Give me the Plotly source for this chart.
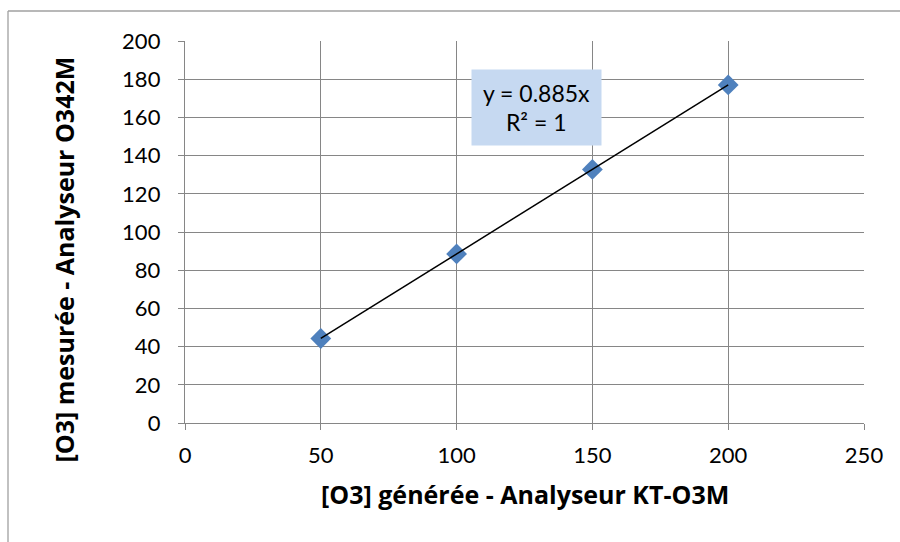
import numpy as np
import plotly.graph_objects as go

# Generated ozone concentration (KT-O3M) vs. measured concentration (O342M)
generated = [50, 100, 150, 200]
measured = [44.25, 88.5, 132.75, 177.0]

x_ticks = [0, 50, 100, 150, 200, 250]
y_ticks = [0, 20, 40, 60, 80, 100, 120, 140, 160, 180, 200]

# Linear trendline through the origin
xg = np.array(generated, dtype=float)
ym = np.array(measured, dtype=float)
slope = float((xg @ ym) / (xg @ xg))
fit = slope * xg
ss_res = float(((ym - fit) ** 2).sum())
ss_tot = float(((ym - ym.mean()) ** 2).sum())
r2 = 1 - ss_res / ss_tot

FONT = "Lato"
TITLE_FONT = "Open Sans"
GRID = "#868686"

# plot-area pixel geometry
W, H = 900, 542
L, R, T, B = 185, 36, 41, 119
pw, ph = W - L - R, H - T - B


def px(x):
    return (x - L) / pw


def py(y):
    return (H - B - y) / ph


fig = go.Figure()
fig.add_trace(go.Scatter(
    x=generated, y=measured, mode="markers",
    marker=dict(symbol="diamond", size=16, color="#4F81BD"),
    showlegend=False, hoverinfo="x+y",
))
fig.add_trace(go.Scatter(
    x=generated, y=fit.tolist(), mode="lines",
    line=dict(color="black", width=1.5),
    showlegend=False, hoverinfo="skip",
))

axis_common = dict(
    showgrid=True, gridcolor=GRID, gridwidth=1.4,
    showline=True, linecolor=GRID, linewidth=1.4,
    ticks="outside", ticklen=6, tickwidth=1.4, tickcolor=GRID,
    tickfont=dict(family=FONT, size=22, color="black"),
    zeroline=False, fixedrange=True,
)

fig.update_xaxes(range=[0, 250], tickvals=x_ticks, ticklabelstandoff=6,
                 **axis_common)
fig.update_yaxes(range=[0, 200], tickvals=y_ticks, ticklabelstandoff=13,
                 **axis_common)

title_font = dict(family=TITLE_FONT, size=25, color="black", weight="bold")

fig.update_layout(
    width=W, height=H,
    margin=dict(l=L, r=R, t=T, b=B),
    paper_bgcolor="white", plot_bgcolor="white",
    font=dict(family=FONT, color="black"),
    annotations=[
        dict(
            x=px(536), y=py(107.7), xref="paper", yref="paper",
            xanchor="center", yanchor="middle",
            text=f"y = {slope:.3f}x<br>R² = {r2:.0f}",
            showarrow=False, bgcolor="#C6D9F1",
            width=127, height=73, align="center",
            font=dict(family=FONT, size=23, color="black"),
        ),
        dict(
            x=px(524.5), y=py(494), xref="paper", yref="paper",
            text="[O3] générée - Analyseur KT-O3M",
            showarrow=False, xanchor="center", yanchor="middle",
            font=title_font,
        ),
        dict(
            x=px(63), y=py(259.5), xref="paper", yref="paper",
            text="[O3] mesurée - Analyseur O342M",
            showarrow=False, xanchor="center", yanchor="middle",
            textangle=-90,
            font=title_font,
        ),
    ],
    shapes=[
        # outer chart frame (left and top edges)
        dict(type="line", xref="paper", yref="paper",
             x0=px(8), x1=px(8), y0=py(11), y1=py(560),
             line=dict(color="#A0A0A0", width=1.3)),
        dict(type="line", xref="paper", yref="paper",
             x0=px(8), x1=px(920), y0=py(11), y1=py(11),
             line=dict(color="#A0A0A0", width=1.3)),
    ],
)

fig.write_html("out.html")
